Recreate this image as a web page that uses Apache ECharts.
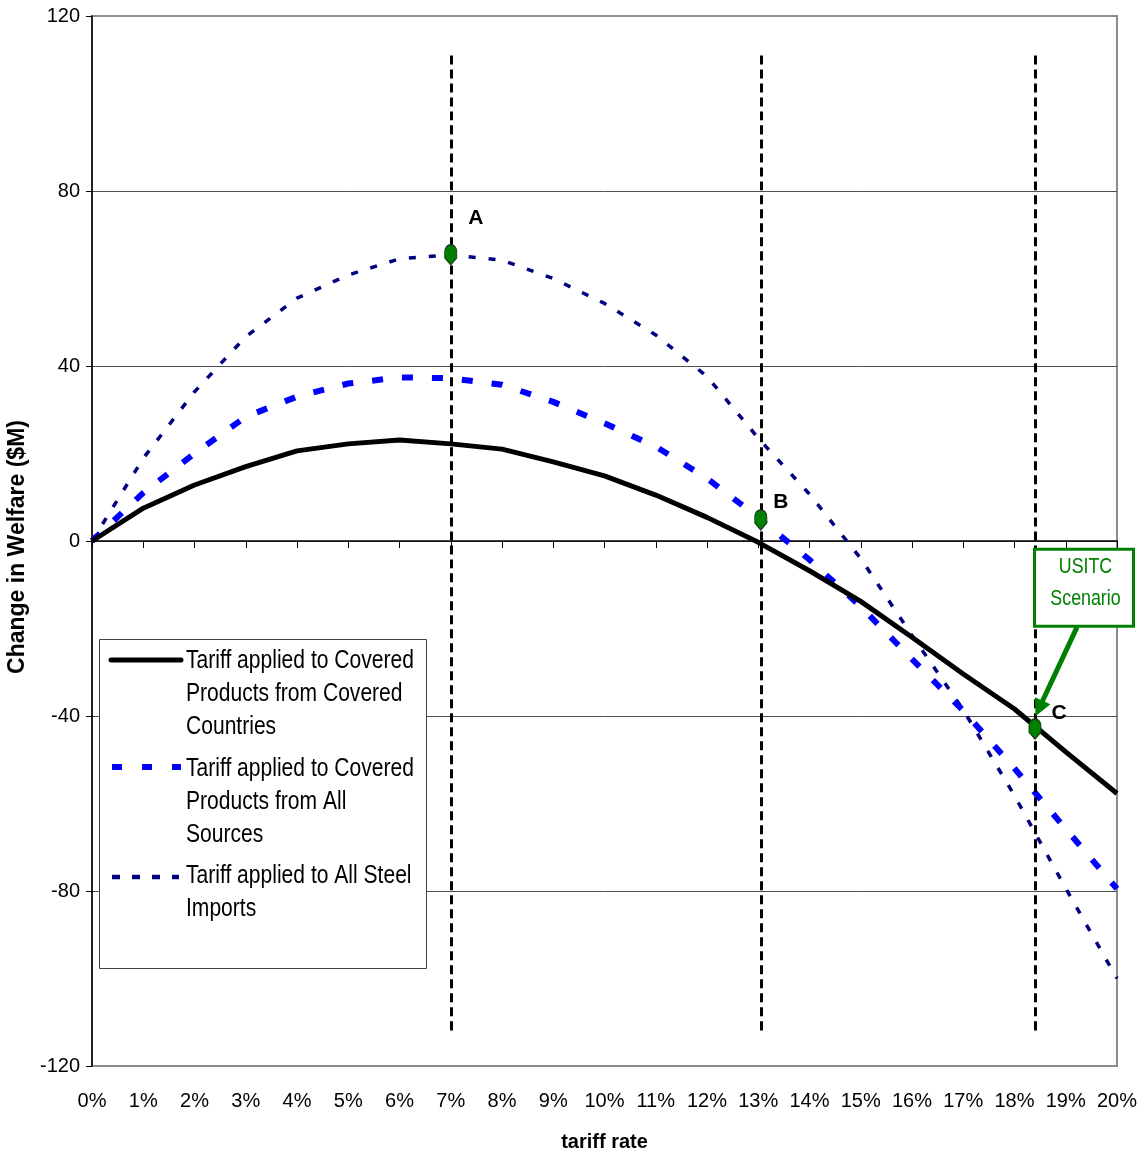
<!DOCTYPE html>
<html>
<head>
<meta charset="utf-8">
<script src="https://cdn.jsdelivr.net/npm/echarts@6/dist/echarts.min.js"></script>
<style>
html,body{margin:0;padding:0;background:#fff;}
#chart{width:1145px;height:1156px;}
</style>
</head>
<body>
<div id="chart"></div>
<script>
// ---------- data ----------
const tariffRates = [0,1,2,3,4,5,6,7,8,9,10,11,12,13,14,15,16,17,18,19,20];
const coveredCountries = [0, 7.5, 12.8, 17.0, 20.6, 22.2, 23.1, 22.2, 21.0, 18.1, 14.9, 10.5, 5.4, -0.3, -6.8, -13.8, -22.0, -30.4, -38.4, -48.2, -57.7];
const allSources = [0, 11.0, 20.0, 28.4, 33.0, 36.0, 37.4, 37.2, 35.7, 31.8, 26.9, 21.6, 14.3, 5.4, -4.3, -15.0, -27.0, -38.8, -52.0, -65.8, -79.5];
const allSteel = [0, 18.9, 34.1, 46.7, 55.5, 60.8, 64.5, 65.4, 64.2, 60.0, 54.3, 47.1, 37.6, 23.5, 10.7, -4.0, -21.6, -38.6, -58.2, -79.4, -100.0];
const seriesNames = [
  'Tariff applied to Covered\nProducts from Covered\nCountries',
  'Tariff applied to Covered\nProducts from All\nSources',
  'Tariff applied to All Steel\nImports'
];
const yMin = -120, yMax = 120, yStep = 40;
const xMin = 0, xMax = 20, xStep = 1;
const refLineX = [7, 13.05, 18.4];
const refLineTop = 111, refLineBottom = -112;
const pointX = [7, 13.05, 18.4];
const pointY = [65.4, 4.8, -43];
const pointLabels = ['A', 'B', 'C'];
const calloutText = 'USITC\nScenario';
const xAxisTitle = 'tariff rate';
const yAxisTitle = 'Change in Welfare ($M)';

// ---------- styles ----------
const FONT = '"Liberation Sans",Arial,sans-serif';
const NARROW_SCALE = 0.81;
const labelOffsets = [[25, -37], [20, -18], [24, -16]];
const lineStyles = [
  {color: '#000000', width: 5, type: 'solid'},
  {color: '#0000FF', width: 6, type: [11, 19]},
  {color: '#000080', width: 3.5, type: [7, 13]}
];
const green = '#008000';

const chart = echarts.init(document.getElementById('chart'), null, {renderer: 'canvas'});

const drawOrder = [2, 1, 0];
const seriesData = [coveredCountries, allSources, allSteel];
const lineSeries = drawOrder.map((idx) => ({
  name: seriesNames[idx],
  type: 'line',
  data: tariffRates.map((x, i) => [x, seriesData[idx][i]]),
  symbol: 'none',
  smooth: false,
  lineStyle: Object.assign({cap: 'butt'}, lineStyles[idx]),
  z: 3 + (2 - idx),
  silent: true
}));

const option = {
  animation: false,
  backgroundColor: '#ffffff',
  grid: {
    left: 92, right: 28, top: 16, bottom: 90,
    show: true, borderColor: '#8c8c8c', borderWidth: 2,
    containLabel: false, outerBoundsMode: 'none'
  },
  xAxis: [
    {
      type: 'value', min: xMin, max: xMax, interval: xStep, position: 'bottom',
      axisLine: {show: false, onZero: false},
      axisTick: {show: false},
      splitLine: {show: false},
      axisLabel: {formatter: '{value}%', fontFamily: FONT, fontSize: 20, color: '#000', margin: 25},
      name: xAxisTitle, nameLocation: 'middle', nameGap: 66,
      nameTextStyle: {fontFamily: FONT, fontWeight: 'bold', fontSize: 20, color: '#000'}
    },
    {
      type: 'value', min: xMin, max: xMax, interval: xStep, position: 'bottom',
      axisLine: {show: true, onZero: true, lineStyle: {color: '#000', width: 1.5}},
      axisTick: {show: true, inside: false, length: 7, lineStyle: {color: '#000', width: 1}},
      axisLabel: {show: false},
      splitLine: {show: false}
    }
  ],
  yAxis: {
    type: 'value', min: yMin, max: yMax, interval: yStep,
    axisLine: {show: true, onZero: false, lineStyle: {color: '#000', width: 1.5}},
    axisTick: {show: true, length: 6, lineStyle: {color: '#000'}},
    axisLabel: {fontFamily: FONT, fontSize: 20, color: '#000', margin: 12},
    splitLine: {show: true, showMinLine: false, showMaxLine: false, lineStyle: {color: '#505050', width: 1}},
    name: yAxisTitle, nameLocation: 'middle', nameGap: 50, nameRotate: 90,
    nameTextStyle: {fontFamily: FONT, fontWeight: 'bold', fontSize: 23, color: '#000', padding: [0, 12, 0, 0]}
  },
  series: lineSeries.concat([
    {
      name: 'refs',
      type: 'scatter',
      data: [],
      silent: true,
      markLine: {
        silent: true,
        symbol: ['none', 'none'],
        label: {show: false},
        lineStyle: {color: '#000', width: 3, type: [9, 5]},
        data: refLineX.map(x => [{coord: [x, refLineTop]}, {coord: [x, refLineBottom]}])
      },
      z: 2
    },
    {
      name: 'points',
      type: 'scatter',
      z: 10,
      silent: true,
      symbol: 'path://M5,0 C8,0 10,2.5 10,6 L10,11 L5,17 L0,11 L0,6 C0,2.5 2,0 5,0 Z',
      symbolSize: [12, 20],
      itemStyle: {color: green, borderColor: '#1a3a1a', borderWidth: 1.2, opacity: 1},
      data: pointX.map((x, i) => ({
        value: [x, pointY[i]],
        label: {
          show: true, formatter: pointLabels[i], position: 'inside',
          offset: labelOffsets[i],
          fontFamily: FONT, fontWeight: 'bold', fontSize: 21, color: '#000'
        }
      }))
    }
  ])
};
chart.setOption(option);

// ---------- legend + callout (annotation graphics) ----------
const legendTop = 640, legendLeft = 100;
const legendEntryTops = [644.5, 752.5, 859.5];
const legendSampleY = [660, 767, 877];
const graphics = [];
graphics.push({
  type: 'rect', z: 50,
  shape: {x: legendLeft - 0.5, y: legendTop - 0.5, width: 327, height: 329},
  style: {fill: '#fff', stroke: '#404040', lineWidth: 1}
});
const sampleDefs = [
  {x1: 111, x2: 181, dash: null, cap: 'round', w: 5},
  {x1: 112, x2: 181, dash: [10, 20], cap: 'butt', w: 6},
  {x1: 112, x2: 179, dash: [8, 12], cap: 'butt', w: 4.5}
];
seriesNames.forEach((nm, i) => {
  graphics.push({
    type: 'line', z: 51,
    shape: {x1: sampleDefs[i].x1, y1: legendSampleY[i], x2: sampleDefs[i].x2, y2: legendSampleY[i]},
    style: {stroke: lineStyles[i].color, lineWidth: sampleDefs[i].w, lineDash: sampleDefs[i].dash, lineCap: sampleDefs[i].cap}
  });
  graphics.push({
    type: 'text', z: 51,
    x: 186, y: legendEntryTops[i], scaleX: NARROW_SCALE,
    style: {
      text: nm, x: 0, y: 0,
      fontFamily: FONT, fontSize: 26, lineHeight: 33,
      fill: '#000', align: 'left', verticalAlign: 'top'
    }
  });
});

const pC = chart.convertToPixel({xAxisIndex: 0, yAxisIndex: 0}, [pointX[2], pointY[2]]);
const boxX = pC[0] - 0.5, boxY = pC[1] - 180;
graphics.push({
  type: 'rect', z: 60,
  shape: {x: boxX, y: boxY, width: 99, height: 77},
  style: {fill: '#fff', stroke: green, lineWidth: 3}
});
graphics.push({
  type: 'text', z: 61,
  x: boxX + 51, y: boxY + 2, scaleX: NARROW_SCALE,
  style: {
    text: calloutText, x: 0, y: 0,
    fontFamily: FONT, fontSize: 22, lineHeight: 32,
    fill: green, align: 'center', verticalAlign: 'top'
  }
});
const S = [pC[0] + 42, boxY + 78];
const T = [pC[0] + 0.5, pC[1] - 13];
const dx = T[0] - S[0], dy = T[1] - S[1];
const len = Math.sqrt(dx * dx + dy * dy);
const ux = dx / len, uy = dy / len;
const nx = -uy, ny = ux;
const headLen = 17, headHalf = 8.5;
const B = [T[0] - headLen * ux, T[1] - headLen * uy];
graphics.push({
  type: 'line', z: 60,
  shape: {x1: S[0], y1: S[1], x2: B[0] + 2 * ux, y2: B[1] + 2 * uy},
  style: {stroke: green, lineWidth: 5, lineCap: 'butt'}
});
graphics.push({
  type: 'polygon', z: 60,
  shape: {points: [T, [B[0] + headHalf * nx, B[1] + headHalf * ny], [B[0] - headHalf * nx, B[1] - headHalf * ny]]},
  style: {fill: green}
});

chart.setOption({graphic: {elements: graphics}});
</script>
</body>
</html>
